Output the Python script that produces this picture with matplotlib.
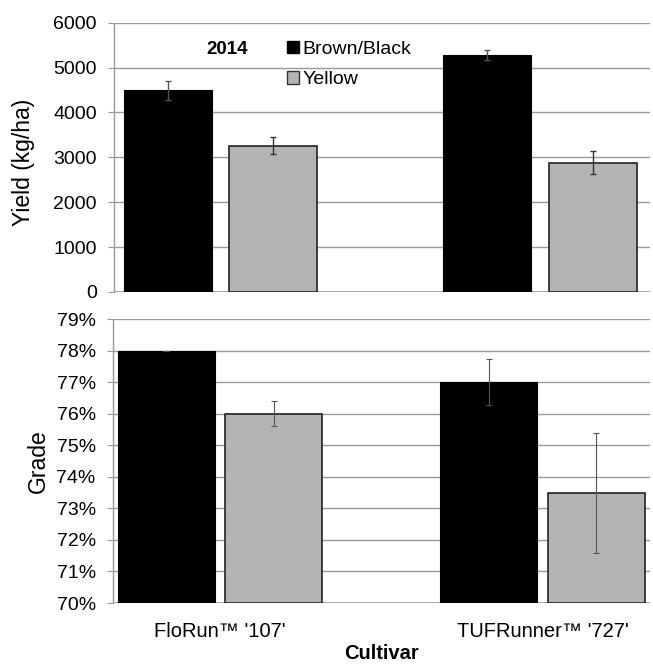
import matplotlib
matplotlib.use("Agg")
import matplotlib.pyplot as plt
import numpy as np
from matplotlib.ticker import FuncFormatter
from matplotlib.patches import Patch

plt.rcParams['font.family'] = ['Liberation Sans', 'DejaVu Sans']

cultivars = ["FloRun\u2122 '107'", "TUFRunner\u2122 '727'"]
series = ["Brown/Black", "Yellow"]
yield_black = [4490, 5290]
yield_black_err = [220, 110]
yield_yellow = [3260, 2885]
yield_yellow_err = [190, 250]
grade_black = [78.0, 77.0]
grade_black_err = [0.0, 0.73]
grade_yellow = [76.0, 73.5]
grade_yellow_err = [0.4, 1.9]

colors = ["#000000", "#b4b4b4"]
grid_c = "#9a9a9a"

W, H = 653, 667
fig = plt.figure(figsize=(W / 100, H / 100), dpi=100)
ax1 = fig.add_axes([114 / W, 1 - 292 / H, 536 / W, (292 - 22.7) / H])
ax2 = fig.add_axes([113 / W, 1 - 603 / H, 537 / W, (603 - 319) / H])

x = np.arange(len(cultivars))

def style(ax):
    for s in ["top", "right", "bottom"]:
        ax.spines[s].set_visible(False)
    ax.spines["left"].set_color(grid_c)
    ax.spines["left"].set_linewidth(1.0)
    ax.yaxis.grid(True, color=grid_c, linewidth=1.0)
    ax.set_axisbelow(True)
    ax.tick_params(axis="y", length=4.5, color=grid_c, labelsize=14, pad=8)
    ax.tick_params(axis="x", length=0)

# Top: yield
w1, off1 = 0.275, 0.165
ax1.bar(x - off1, yield_black, w1, color=colors[0], edgecolor="black", linewidth=0.8,
        yerr=yield_black_err, error_kw=dict(ecolor="#555555", elinewidth=1, capsize=2.5, capthick=1), zorder=2)
ax1.bar(x + off1, yield_yellow, w1, color=colors[1], edgecolor="#222222", linewidth=1.2,
        yerr=yield_yellow_err, error_kw=dict(ecolor="#333333", elinewidth=1, capsize=2.5, capthick=1), zorder=2)
ax1.set_ylim(0, 6000)
ax1.set_yticks(range(0, 6001, 1000))
ax1.set_xlim(-0.333, 1.344)
ax1.set_xticks([])
style(ax1)
ax1.axhline(0, color=grid_c, linewidth=1.2, zorder=1)
ax1.set_ylabel("Yield (kg/ha)", fontsize=16.5)
ax1.yaxis.set_label_coords(-0.147, 0.48)
ax1.text(0.172, 0.9, "2014", transform=ax1.transAxes, fontsize=13.5, fontweight="bold",
         ha="left", va="center")
handles = [Patch(facecolor=colors[0], edgecolor="black"),
           Patch(facecolor=colors[1], edgecolor="#333333")]
ax1.legend(handles, series, loc="upper left", bbox_to_anchor=(0.323, 0.933), frameon=False,
           fontsize=14, handlelength=0.6, handleheight=0.6, handletextpad=0.2,
           labelspacing=0.7, borderaxespad=0, borderpad=0)

# Bottom: grade
w2, off2 = 0.30, 0.1667
ax2.bar(x - off2, np.array(grade_black) - 70, w2, bottom=70, color=colors[0], edgecolor="black", linewidth=0.8,
        yerr=grade_black_err, error_kw=dict(ecolor="#555555", elinewidth=0.8, capsize=2.5, capthick=0.8), zorder=2)
ax2.bar(x + off2, np.array(grade_yellow) - 70, w2, bottom=70, color=colors[1], edgecolor="#222222", linewidth=1.2,
        yerr=grade_yellow_err, error_kw=dict(ecolor="#555555", elinewidth=0.8, capsize=2.5, capthick=0.8), zorder=2)
ax2.set_ylim(70, 79)
ax2.set_yticks(range(70, 80))
ax2.yaxis.set_major_formatter(FuncFormatter(lambda v, p: f"{v:.0f}%"))
ax2.set_xlim(-0.332, 1.333)
ax2.set_xticks(x)
ax2.set_xticklabels(cultivars, fontsize=14.5)
style(ax2)
ax2.tick_params(axis="x", pad=14)
ax2.axhline(70, color=grid_c, linewidth=1.2, zorder=1)
ax2.set_ylabel("Grade", fontsize=16.5)
ax2.yaxis.set_label_coords(-0.118, 0.5)
ax2.set_xlabel("Cultivar", fontsize=14.5, fontweight="bold", labelpad=2)

fig.savefig("out.png", dpi=100)
